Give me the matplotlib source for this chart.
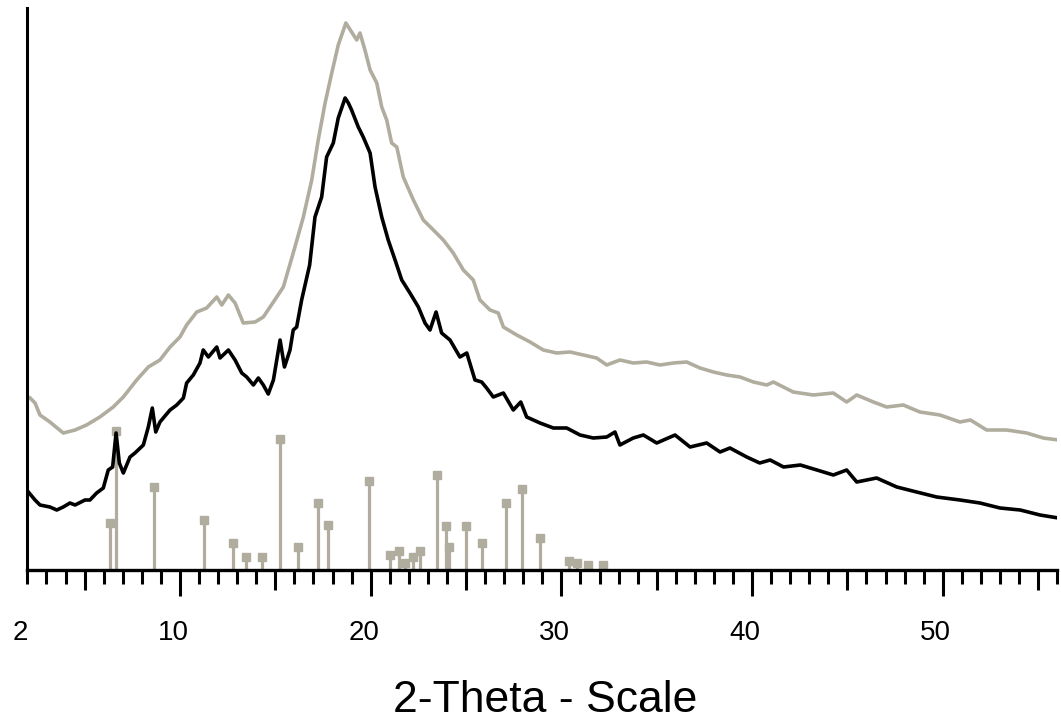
import matplotlib.pyplot as plt
import matplotlib.transforms as mtransforms

plt.rcParams['font.family'] = ['Liberation Sans', 'DejaVu Sans']

# lower (black) scan
black_x = [2.05, 2.4, 2.66, 3.18, 3.54, 3.88, 4.23, 4.5, 5.02, 5.28, 5.63, 5.98, 6.24, 6.47,
           6.65, 6.82, 7.03, 7.38, 7.64, 8.08, 8.34, 8.55, 8.73, 8.95, 9.48, 9.83, 10.18, 10.35,
           10.7, 11.05, 11.22, 11.49, 11.93, 12.1, 12.54, 12.89, 13.24, 13.5, 13.85, 14.11, 14.37,
           14.63, 14.9, 15.25, 15.48, 15.77, 15.94, 16.12, 16.38, 16.8, 17.08, 17.43, 17.69, 18.04,
           18.3, 18.66, 18.83, 19.0, 19.35, 19.61, 19.97, 20.23, 20.58, 20.92, 21.28, 21.63, 22.06,
           22.5, 22.85, 23.11, 23.43, 23.72, 24.16, 24.68, 25.04, 25.47, 25.82, 26.08, 26.43, 26.96,
           27.48, 27.87, 28.18, 28.88, 29.58, 30.28, 30.98, 31.67, 32.38, 32.81, 33.07, 33.77, 34.3,
           35.0, 35.96, 36.75, 37.62, 38.32, 38.84, 39.72, 40.4, 40.95, 41.65, 42.53, 43.4, 44.26,
           44.96, 45.49, 46.53, 47.59, 48.63, 49.68, 50.9, 51.95, 53.0, 54.06, 55.1, 56.06]
black_y = [78, 70, 65, 63, 60, 63, 67, 65, 70, 70, 77, 82, 100, 103,
           137, 107, 97, 113, 117, 125, 143, 162, 138, 148, 160, 165, 172, 187,
           195, 207, 220, 213, 223, 212, 220, 210, 197, 193, 185, 192, 185,
           176, 190, 230, 203, 220, 240, 243, 270, 305, 353, 373, 413, 427,
           452, 472, 467, 460, 443, 433, 417, 383, 353, 330, 310, 290, 277,
           263, 247, 240, 258, 237, 230, 213, 217, 190, 188, 182, 173, 177,
           160, 168, 153, 147, 142, 142, 135, 132, 133, 138, 125, 132, 135,
           127, 135, 123, 127, 118, 122, 113, 107, 110, 103, 105, 100, 95,
           100, 88, 92, 83, 78, 73, 70, 67, 62, 60, 55, 52]

# upper (grey) scan
grey_x = [2.14, 2.4, 2.66, 3.18, 3.88, 4.5, 5.1, 5.8, 6.5, 7.03, 7.73, 8.34, 8.95, 9.48, 10.0,
          10.35, 10.88, 11.4, 11.93, 12.19, 12.54, 12.89, 13.32, 13.94, 14.37, 14.9, 15.42, 15.94,
          16.47, 16.91, 17.25, 17.61, 17.96, 18.3, 18.7, 19.0, 19.27, 19.44, 19.7, 19.97, 20.32,
          20.58, 20.84, 21.1, 21.37, 21.71, 22.24, 22.76, 23.29, 23.81, 24.33, 24.86, 25.38, 25.73,
          26.26, 26.69, 26.96, 27.66, 28.36, 29.05, 29.76, 30.45, 31.15, 31.85, 32.38, 33.07, 33.77,
          34.47, 35.17, 35.87, 36.57, 37.27, 37.97, 38.67, 39.37, 40.07, 40.77, 41.12, 42.16, 43.21,
          44.26, 44.96, 45.49, 46.36, 47.06, 47.93, 48.8, 49.85, 50.9, 51.45, 52.3, 53.35, 54.4,
          55.27, 56.06]
grey_y = [172, 167, 155, 148, 137, 140, 145, 153, 163, 173, 190, 203, 210, 223, 233,
          245, 258, 262, 273, 265, 275, 267, 247, 248, 253, 268, 283, 317,
          353, 390, 430, 467, 497, 525, 547, 538, 530, 537, 520, 500, 487,
          463, 450, 427, 423, 393, 370, 350, 340, 330, 317, 300, 290, 270,
          260, 257, 243, 235, 228, 220, 217, 218, 215, 212, 205, 210, 207,
          208, 205, 207, 208, 202, 198, 195, 193, 188, 185, 188, 178, 175,
          177, 168, 175, 168, 163, 165, 158, 155, 148, 150, 140, 140, 137,
          132, 130]

# reference pattern lines
stick_x = [6.33, 6.65, 8.64, 11.27, 12.8, 13.45, 14.29, 15.23, 16.2, 17.22, 17.78, 19.9,
           21.0, 21.5, 21.8, 22.24, 22.59, 23.5, 23.93, 24.1, 24.98, 25.82, 27.08, 27.92,
           28.88, 30.42, 30.84, 31.38, 32.2]
stick_h = [47, 139, 83, 50, 27, 13, 13, 131, 23, 67, 45, 89,
           15, 19, 7, 13, 19, 95, 44, 23, 44, 27, 67, 81,
           32, 9, 7, 5, 5]

tick_labels = ['2', '10', '20', '30', '40', '50']
tick_pos = [2, 10, 20, 30, 40, 50]

grey = '#b0ad9f'

fig = plt.figure(figsize=(10.61, 7.26), dpi=100)
ax = fig.add_axes([27.4 / 1061, 156 / 726, (1057.2 - 27.4) / 1061, 562 / 726])

ax.vlines(stick_x, 0, stick_h, color=grey, lw=2.3, zorder=1)
ax.plot(stick_x, stick_h, 's', color=grey, ms=5.5, zorder=1)
ax.plot(grey_x, grey_y, color=grey, lw=2.6, zorder=2)
ax.plot(black_x, black_y, color='black', lw=2.6, zorder=3)

ax.set_xlim(2, 56)
ax.set_ylim(0, 562)
ax.spines['top'].set_visible(False)
ax.spines['right'].set_visible(False)
ax.spines['left'].set_linewidth(2.2)
ax.spines['bottom'].set_linewidth(2.4)
ax.set_yticks([])

ax.set_xticks(tick_pos)
ax.set_xticklabels(tick_labels)
ax.set_xticks([v for v in range(3, 57) if v % 5 != 0], minor=True)
ax.tick_params(axis='x', which='major', direction='out', length=19, width=2.2, pad=17,
               labelsize=20)
ax.tick_params(axis='x', which='minor', direction='out', length=10, width=2.2)
ax.xaxis.get_major_ticks()[0].tick1line.set_markersize(10)

# medium ticks at the fives
sec = ax.secondary_xaxis('bottom')
sec.set_xticks([5, 15, 25, 35, 45, 55])
sec.set_xticklabels([])
sec.tick_params(direction='out', length=14.5, width=2.2)
sec.spines['bottom'].set_visible(False)

offset = mtransforms.ScaledTranslation(-7 / 100, 0, fig.dpi_scale_trans)
for lab in ax.get_xticklabels():
    lab.set_transform(lab.get_transform() + offset)

fig.text(545 / 1061, 1 - 700 / 726, '2-Theta - Scale', fontsize=32, ha='center', va='center')

fig.savefig('out.png', dpi=100)
